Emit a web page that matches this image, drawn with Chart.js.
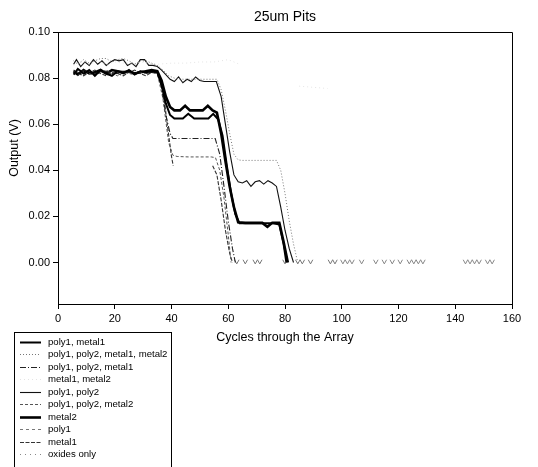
<!DOCTYPE html>
<html>
<head>
<meta charset="utf-8">
<script src="https://cdn.jsdelivr.net/npm/chart.js@4/dist/chart.umd.min.js"></script>
<style>
html,body{margin:0;padding:0;background:#fff;}
#wrap{position:relative;width:538px;height:467px;}
</style>
</head>
<body>
<div id="wrap"><canvas id="c" width="538" height="467"></canvas></div>
<script>
// ---- data ----
const chartTitle = '25um Pits';
const xTitle = 'Cycles through the Array';
const yTitle = 'Output (V)';
const xTicks = [0, 20, 40, 60, 80, 100, 120, 140, 160];
const yTicks = [0.00, 0.02, 0.04, 0.06, 0.08, 0.10];
const labels = ['poly1, metal1', 'poly1, poly2, metal1, metal2', 'poly1, poly2, metal1', 'metal1, metal2',
  'poly1, poly2', 'poly1, poly2, metal2', 'metal2', 'poly1', 'metal1', 'oxides only'];

const p1m1X = [5.5,7,9,11,13,15,17,19,21,23,25,27,29,31,33,35,36.5,38,39.5,41,44,45.9,48,51,53,54.7,56.5,58,59.5,61,62.5,64,67,70,73,76,78,79.5,80.5];
const p1m1Y = [0.0815,0.084,0.082,0.0835,0.081,0.0835,0.082,0.081,0.083,0.082,0.0835,0.0815,0.083,0.0825,0.083,0.0825,0.077,0.069,0.064,0.0625,0.0625,0.0645,0.0625,0.0625,0.0625,0.0645,0.062,0.055,0.042,0.030,0.021,0.017,0.017,0.017,0.017,0.017,0.0165,0.008,0];

const allX = [5.5,7,9,11,13,15,17,19,21,23,25,27,29,31,33,35,37,39,41,44,47,50,53,56,57.5,59,60.5,62,63.5,65,68,71,74,77,78.5,80,81.5,83,84.5];
const allY = [0.0875,0.086,0.088,0.0865,0.0875,0.0885,0.0885,0.087,0.088,0.0885,0.0875,0.086,0.0875,0.0875,0.0865,0.0855,0.0835,0.081,0.080,0.0795,0.0795,0.0795,0.0795,0.0795,0.075,0.066,0.056,0.047,0.0445,0.0443,0.0443,0.0443,0.0443,0.0443,0.040,0.030,0.018,0.008,0];

const p1p2m1X = [5.5,7,9,11,13,15,17,19,21,23,25,27,29,31,33,35,36.5,38,39.5,40.5,44,48,52,55.4,57,58.5,60,61.5,62.5];
const p1p2m1Y = [0.083,0.0825,0.0815,0.083,0.082,0.0825,0.083,0.082,0.082,0.083,0.0825,0.082,0.083,0.082,0.0825,0.0825,0.076,0.064,0.056,0.0538,0.0538,0.0538,0.0538,0.0538,0.047,0.033,0.018,0.006,0];

const m1m2X = [5.5,8,11,14,17,20,23,26,29,32,35,40,45,50,55,60,64,null,85,90,95];
const m1m2Y = [0.0855,0.087,0.086,0.0875,0.086,0.087,0.0865,0.086,0.087,0.0865,0.086,0.0865,0.0865,0.087,0.087,0.088,0.086,null,0.0765,0.076,0.0755];

const p1p2X = [5.5,6.5,8,9.5,11,12.5,14,15.5,17,18.5,20,21.5,23,24.5,26,27.5,29,30.5,32,33.5,35,36.5,38,39.5,41,42.5,44,45.5,47,48.5,50,51.5,53,55.8,57.5,59,60.5,62,63.5,65,66.5,68,69.5,71,72.5,74,75.5,77,78.5,80,81.5,83];
const p1p2Y = [0.086,0.088,0.085,0.087,0.0855,0.088,0.086,0.0875,0.0855,0.087,0.088,0.0875,0.088,0.0855,0.0865,0.085,0.088,0.088,0.0855,0.0855,0.085,0.0835,0.0815,0.0795,0.0785,0.0805,0.078,0.0795,0.0785,0.0805,0.079,0.0785,0.0785,0.0785,0.072,0.060,0.048,0.038,0.035,0.0345,0.0355,0.033,0.035,0.0355,0.034,0.0355,0.0345,0.033,0.024,0.014,0.006,0];

const p1p2m2X = [5.5,7,9,11,13,15,17,19,21,23,25,27,29,31,33,35,37,39,40.5,42,46,50,54,55.5,57,58.5,60,61];
const p1p2m2Y = [0.0825,0.081,0.0835,0.082,0.081,0.0825,0.0835,0.082,0.081,0.0825,0.082,0.0815,0.0825,0.082,0.0825,0.082,0.071,0.052,0.0465,0.046,0.0458,0.0458,0.0458,0.0455,0.040,0.028,0.012,0];

const metal2X = [5.5,7,9,11,13,15,17,19,21,23,25,27,29,31,33,35,36.5,38,39.5,41,43,44.8,46.5,49,51,52.8,54.5,56,57.5,59,60.5,62,63.5,66,69,72,73.8,75.5,78,79.5,81];
const metal2Y = [0.083,0.0815,0.0835,0.082,0.0825,0.0835,0.082,0.0835,0.083,0.0825,0.083,0.082,0.0825,0.083,0.0835,0.083,0.079,0.072,0.0675,0.066,0.066,0.068,0.066,0.066,0.066,0.068,0.066,0.065,0.056,0.044,0.033,0.024,0.0175,0.0172,0.0172,0.0172,0.0155,0.0172,0.0172,0.009,0];

const poly1X = [62.2,63,63.8,64.5,65.2,66,66.8,67.5,68.7,69.5,70.3,71.1,71.9,72.5,79.2,80,80.8,81.5,83.7,84.5,85.3,86.1,86.9,87.5,88.2,89,89.8,90.5,95.2,96,96.8,97.6,98.4,99];
const poly1Y = [0.0012,-0.0006,0.0012,null,0.0012,-0.0006,0.0012,null,0.0012,-0.0006,0.0012,-0.0006,0.0012,null,0.0012,-0.0006,0.0012,null,0.0012,-0.0006,0.0012,-0.0006,0.0012,null,0.0012,-0.0006,0.0012,null,0.0012,-0.0006,0.0012,-0.0006,0.0012,null];

const metal1X = [5.5,7,9,11,13,15,17,19,21,23,25,27,29,31,33,35,37,38.5,40,40.6,47,54.5,56,57.5,59,60.5,61.5];
const metal1Y = [0.0835,0.082,0.081,0.0825,0.0835,0.082,0.081,0.0825,0.082,0.081,0.0825,0.0835,0.082,0.081,0.0825,0.082,0.075,0.060,0.046,0.042,null,0.042,0.038,0.027,0.014,0.004,0];

const oxX = [99.6,100.4,101.2,102,102.8,103.6,104.4,105,106.2,107,107.8,108.5,111.2,112,112.8,113.5,114.2,115,115.8,116.5,117,117.8,118.6,119.2,119.8,120.6,121.4,122,123,123.8,124.6,125.4,126.2,127,127.8,128.6,129.4,130,142.8,143.6,144.4,145.2,146,146.8,147.6,148.4,149.2,150,150.6,151.4,152.2,153,153.8];
const oxY = [0.0012,-0.0006,0.0012,-0.0006,0.0012,-0.0006,0.0012,null,0.0012,-0.0006,0.0012,null,0.0012,-0.0006,0.0012,null,0.0012,-0.0006,0.0012,null,0.0012,-0.0006,0.0012,null,0.0012,-0.0006,0.0012,null,0.0012,-0.0006,0.0012,-0.0006,0.0012,-0.0006,0.0012,-0.0006,0.0012,null,0.0012,-0.0006,0.0012,-0.0006,0.0012,-0.0006,0.0012,-0.0006,0.0012,null,0.0012,-0.0006,0.0012,-0.0006,0.0012];

// ---- build datasets ----
function pts(xs, ys) { return xs.map((x, i) => ({ x: x === null ? 47 : x, y: ys[i] })); }
const seriesX = [p1m1X, allX, p1p2m1X, m1m2X, p1p2X, p1p2m2X, metal2X, poly1X, metal1X, oxX];
const seriesY = [p1m1Y, allY, p1p2m1Y, m1m2Y, p1p2Y, p1p2m2Y, metal2Y, poly1Y, metal1Y, oxY];
const styles = [
  { c: '#000', w: 2.0, d: [] },
  { c: '#777', w: 1, d: [1, 2] },
  { c: '#222', w: 1.1, d: [6, 2, 1, 2] },
  { c: '#e4e4e4', w: 1, d: [1, 3] },
  { c: '#111', w: 1.1, d: [] },
  { c: '#555', w: 1, d: [3, 2] },
  { c: '#000', w: 2.6, d: [] },
  { c: '#777', w: 1, d: [3, 3] },
  { c: '#333', w: 1.1, d: [4, 1.5] },
  { c: '#888', w: 1, d: [1, 4] }
];
const datasets = labels.map((lab, i) => ({
  label: lab,
  data: pts(seriesX[i], seriesY[i]),
  borderColor: styles[i].c,
  borderWidth: styles[i].w,
  borderDash: styles[i].d,
  pointRadius: 0,
  fill: false,
  tension: 0,
  spanGaps: false
}));
// the oxide/poly1 tails are drawn solid so their small dips show like the reference
datasets[7].segment = { borderDash: () => [] };
datasets[9].segment = { borderDash: () => [] };

const FONT = '"Liberation Sans", Arial, Helvetica, sans-serif';
Chart.defaults.font.family = FONT;
Chart.defaults.color = '#000';

const decor = {
  id: 'decor',
  afterDraw(chart) {
    const ctx = chart.ctx;
    const a = chart.chartArea;
    ctx.save();
    // top and right frame lines
    ctx.strokeStyle = '#000';
    ctx.lineWidth = 1;
    ctx.beginPath();
    ctx.moveTo(Math.round(a.left) + 0.5, Math.round(a.top) + 0.5);
    ctx.lineTo(Math.round(a.right) + 0.5, Math.round(a.top) + 0.5);
    ctx.lineTo(Math.round(a.right) + 0.5, Math.round(a.bottom) + 0.5);
    ctx.stroke();
    // y axis title
    ctx.save();
    ctx.translate(15, 148);
    ctx.rotate(-Math.PI / 2);
    ctx.textAlign = 'center';
    ctx.textBaseline = 'middle';
    ctx.font = '12.5px ' + FONT;
    ctx.fillStyle = '#000';
    ctx.fillText(yTitle, 0, 0);
    ctx.restore();
    // boxed legend
    ctx.strokeStyle = '#000';
    ctx.lineWidth = 1;
    ctx.strokeRect(14.5, 332.5, 157, 150);
    ctx.font = '9.6px ' + FONT;
    ctx.fillStyle = '#000';
    ctx.textBaseline = 'middle';
    ctx.textAlign = 'left';
    chart.data.datasets.forEach((ds, i) => {
      const y = Math.round(342 + i * 12.45) + 0.5;
      ctx.beginPath();
      ctx.setLineDash(ds.borderDash || []);
      ctx.strokeStyle = ds.borderColor;
      ctx.lineWidth = ds.borderWidth;
      ctx.moveTo(20, y);
      ctx.lineTo(41, y);
      ctx.stroke();
      ctx.setLineDash([]);
      ctx.fillText(ds.label, 48, y);
    });
    ctx.restore();
  }
};

new Chart(document.getElementById('c'), {
  type: 'line',
  data: { datasets },
  options: {
    responsive: false,
    animation: false,
    events: [],
    layout: { padding: { top: 0, left: 0, right: 26, bottom: 122 } },
    plugins: {
      legend: { display: false },
      tooltip: { enabled: false },
      title: {
        display: true,
        text: chartTitle,
        fullSize: false,
        color: '#000',
        font: { size: 14, weight: 'normal', family: FONT },
        padding: { top: 9, bottom: 6.2 }
      }
    },
    scales: {
      x: {
        type: 'linear',
        min: 0,
        max: 160,
        afterBuildTicks: s => { s.ticks = xTicks.map(v => ({ value: v })); },
        afterFit: s => { s.height = 41; },
        ticks: { color: '#000', font: { size: 11 }, padding: 3, maxRotation: 0 },
        grid: { drawOnChartArea: false, tickLength: 5, color: '#000' },
        border: { color: '#000', width: 1 },
        title: { display: true, text: xTitle, color: '#000', font: { size: 12.5 }, padding: { top: 2, bottom: 0 } }
      },
      y: {
        type: 'linear',
        min: -0.018,
        max: 0.10,
        afterBuildTicks: s => { s.ticks = yTicks.map(v => ({ value: v })); },
        afterFit: s => { s.width = 58; },
        ticks: { color: '#000', font: { size: 11 }, padding: 3, callback: v => Number(v).toFixed(2) },
        grid: { drawOnChartArea: false, tickLength: 5, color: '#000' },
        border: { color: '#000', width: 1 },
        title: { display: false }
      }
    }
  },
  plugins: [decor]
});
</script>
</body>
</html>
